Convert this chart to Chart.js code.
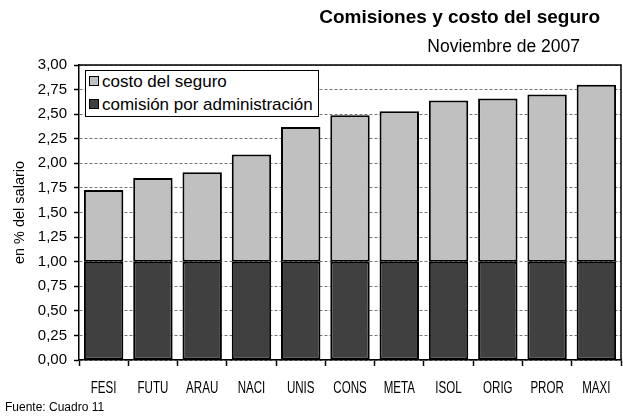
<!DOCTYPE html>
<html>
<head>
<meta charset="utf-8">
<script src="https://cdn.jsdelivr.net/npm/chart.js@4"></script>
<style>
  html, body { margin: 0; padding: 0; background: #fff; }
  #wrap { position: relative; width: 623px; height: 417px; font-family: 'Liberation Sans', Arial, sans-serif; }
  #c { position: absolute; left: 0; top: 0; }
  .t1 { position: absolute; right: 23px; top: 6px; font-size: 19px; font-weight: bold; color: #000; white-space: nowrap; }
  .t2 { position: absolute; right: 43px; top: 36px; font-size: 17.5px; color: #000; white-space: nowrap; }
  .src { position: absolute; left: 5px; top: 400px; font-size: 12px; color: #000; white-space: nowrap; }
  #legend { position: absolute; left: 85px; top: 70px; width: 232px; height: 45px; border: 1.5px solid #000; background: #fff; font-size: 17px; }
  .li { position: absolute; left: 3px; white-space: nowrap; line-height: 19px; }
  .sw { display: inline-block; width: 8px; height: 8px; border: 1.5px solid #000; margin-right: 3px; vertical-align: 1px; }
</style>
</head>
<body>
<div id="wrap">
  <canvas id="c" width="623" height="417"></canvas>
  <div class="t1">Comisiones y costo del seguro</div>
  <div class="t2">Noviembre de 2007</div>
  <div id="legend"></div>
  <div class="src">Fuente: Cuadro 11</div>
</div>
<script>
const categories = ['FESI','FUTU','ARAU','NACI','UNIS','CONS','META','ISOL','ORIG','PROR','MAXI'];
const comision = [1.00,1.00,1.00,1.00,1.00,1.00,1.00,1.00,1.00,1.00,1.00];
const costoSeguro = [0.73,0.85,0.91,1.09,1.37,1.49,1.53,1.64,1.66,1.70,1.80];
const yTicks = [0,0.25,0.5,0.75,1,1.25,1.5,1.75,2,2.25,2.5,2.75,3];
const seriesNames = ['comisión por administración','costo del seguro'];
const seriesColors = ['#404040','#c0c0c0'];

// HTML legend (top-to-bottom: costo, comisión)
const leg = document.getElementById('legend');
[[1,1],[0,24]].forEach(([i,top]) => {
  const d = document.createElement('div');
  d.className = 'li';
  d.style.top = top + 'px';
  d.innerHTML = '<span class="sw" style="background:' + seriesColors[i] + '"></span>' + seriesNames[i];
  leg.appendChild(d);
});

const frame = {
  id: 'frame',
  afterDatasetsDraw(chart) {
    const a = chart.chartArea, ctx = chart.ctx;
    ctx.save();
    ctx.strokeStyle = '#000';
    ctx.lineWidth = 1.5;
    ctx.beginPath();
    ctx.moveTo(a.left, a.top);
    ctx.lineTo(a.right, a.top);
    ctx.lineTo(a.right, a.bottom);
    ctx.stroke();
    ctx.restore();
  },
  afterDraw(chart) {
    // condensed category labels
    const sx = chart.scales.x, ctx = chart.ctx;
    ctx.save();
    ctx.fillStyle = '#000';
    ctx.font = "17px 'Liberation Sans', Arial, sans-serif";
    ctx.textAlign = 'center';
    ctx.textBaseline = 'middle';
    categories.forEach((lab, i) => {
      const x = sx.getPixelForValue(i);
      ctx.save();
      ctx.translate(x, sx.top + 28);
      ctx.scale(0.68, 1);
      ctx.fillText(lab, 0, 0);
      ctx.restore();
    });
    ctx.restore();
  }
};

new Chart(document.getElementById('c'), {
  type: 'bar',
  data: {
    labels: categories,
    datasets: [
      { label: seriesNames[0], data: comision, backgroundColor: seriesColors[0], borderColor: '#000', borderWidth: 2, borderSkipped: false, barPercentage: 0.8, categoryPercentage: 1 },
      { label: seriesNames[1], data: costoSeguro, backgroundColor: seriesColors[1], borderColor: '#000', borderWidth: 2, borderSkipped: false, barPercentage: 0.8, categoryPercentage: 1 }
    ]
  },
  options: {
    responsive: false,
    animation: false,
    devicePixelRatio: 1,
    layout: { padding: { left: 0, right: 2, top: 65, bottom: 22 } },
    plugins: { legend: { display: false }, tooltip: { enabled: false }, title: { display: false } },
    scales: {
      x: {
        stacked: true,
        offset: true,
        grid: { offset: true, drawOnChartArea: false, drawTicks: true, tickLength: 6, tickColor: '#000', tickWidth: 1.5, color: '#000' },
        border: { display: true, color: '#000', width: 1.5 },
        ticks: { color: 'rgba(0,0,0,0)', padding: 8, maxRotation: 0, autoSkip: false, font: { size: 13 } },
        afterFit(s) { s.height = 35; }
      },
      y: {
        stacked: true,
        min: 0, max: 3,
        afterBuildTicks(s) { s.ticks = yTicks.map(v => ({ value: v })); },
        grid: { color: '#777', lineWidth: 1, drawTicks: true, tickLength: 5, tickColor: '#000', tickWidth: 1.5, tickBorderDash: [] },
        border: { display: true, color: '#000', width: 1.5, dash: [3, 2] },
        ticks: { color: '#000', padding: 7, font: { family: "'Liberation Sans', Arial, sans-serif", size: 15 },
                 callback: v => Number(v).toFixed(2).replace('.', ',') },
        title: { display: true, text: 'en % del salario', color: '#000', padding: { top: 11, bottom: 0 },
                 font: { family: "'Liberation Sans', Arial, sans-serif", size: 14.5 } },
        afterFit(s) { s.width = 79; }
      }
    }
  },
  plugins: [frame]
});
</script>
</body>
</html>
